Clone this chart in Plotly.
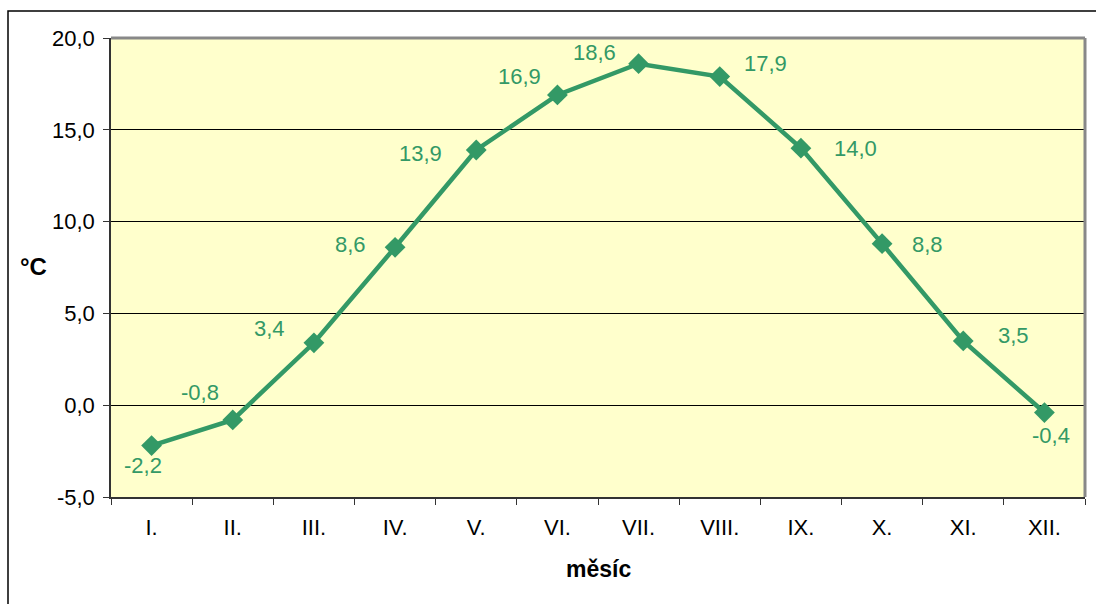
import plotly.graph_objects as go

months = ["I.", "II.", "III.", "IV.", "V.", "VI.", "VII.", "VIII.", "IX.", "X.", "XI.", "XII."]
temps = [-2.2, -0.8, 3.4, 8.6, 13.9, 16.9, 18.6, 17.9, 14.0, 8.8, 3.5, -0.4]
y_ticks = [-5, 0, 5, 10, 15, 20]
y_ticktext = ["-5,0", "0,0", "5,0", "10,0", "15,0", "20,0"]

# label offsets (px) relative to each marker
label_dx = [-9, -33, -44, -45, -56, -38, -44, 46, 55, 45, 50, 7]
label_dy = [-20, 27, 14, 3, -3, 18, 11, 13, 0, -1, 5, -23]

GREEN = "#339966"
FONT = "Liberation Sans, Arial"

fig = go.Figure()
fig.add_trace(go.Scatter(
    x=months, y=temps, mode="lines+markers",
    line=dict(color=GREEN, width=4.5),
    marker=dict(symbol="diamond", size=16, color=GREEN),
    hoverinfo="skip", showlegend=False,
))

for m, t, dx, dy in zip(months, temps, label_dx, label_dy):
    fig.add_annotation(
        x=m, y=t, text=f"{t:.1f}".replace(".", ","),
        showarrow=False, xshift=dx, yshift=dy,
        font=dict(family=FONT, size=22, color=GREEN),
    )

fig.add_annotation(
    text="<b>měsíc</b>", xref="paper", yref="paper", x=0.5, y=-0.157,
    showarrow=False, xanchor="center", yanchor="middle",
    font=dict(family=FONT, size=23, color="black"),
)
fig.add_annotation(
    text="<b>°C</b>", xref="paper", yref="paper", x=-0.080, y=0.503,
    showarrow=False, xanchor="center", yanchor="middle",
    font=dict(family=FONT, size=24, color="black"),
)

# plot-area frame: grey top/right edges
fig.add_shape(type="line", xref="paper", yref="paper", x0=0, x1=1, y0=1, y1=1,
              line=dict(color="#888888", width=3))
fig.add_shape(type="line", xref="paper", yref="paper", x0=1, x1=1, y0=0, y1=1,
              line=dict(color="#888888", width=3))
# outer chart frame
fig.add_shape(type="rect", xref="paper", yref="paper",
              x0=-103 / 974, x1=1.06, y0=-115 / 459, y1=1 + 27 / 459,
              line=dict(color="black", width=1.5), fillcolor="rgba(0,0,0,0)")

fig.update_layout(
    width=1096, height=604,
    margin=dict(l=111, r=11, t=38, b=107),
    paper_bgcolor="white", plot_bgcolor="#FFFFCC",
    font=dict(family=FONT, size=22, color="black"),
)
fig.update_xaxes(
    type="category", range=[-0.5, 11.5], tickson="boundaries",
    ticks="outside", ticklen=6, tickcolor="#333333",
    showline=True, linecolor="#333333", linewidth=1.5,
    showgrid=False, ticklabelstandoff=10,
    tickfont=dict(size=22),
)
fig.update_yaxes(
    range=[-5, 20], tickvals=y_ticks, ticktext=y_ticktext,
    ticks="outside", ticklen=6, tickcolor="#333333",
    showline=True, linecolor="#333333", linewidth=1.5,
    showgrid=True, gridcolor="#000000", gridwidth=1,
    zeroline=False, tickfont=dict(size=22), ticklabelstandoff=4,
)

fig.write_html("out.html")
